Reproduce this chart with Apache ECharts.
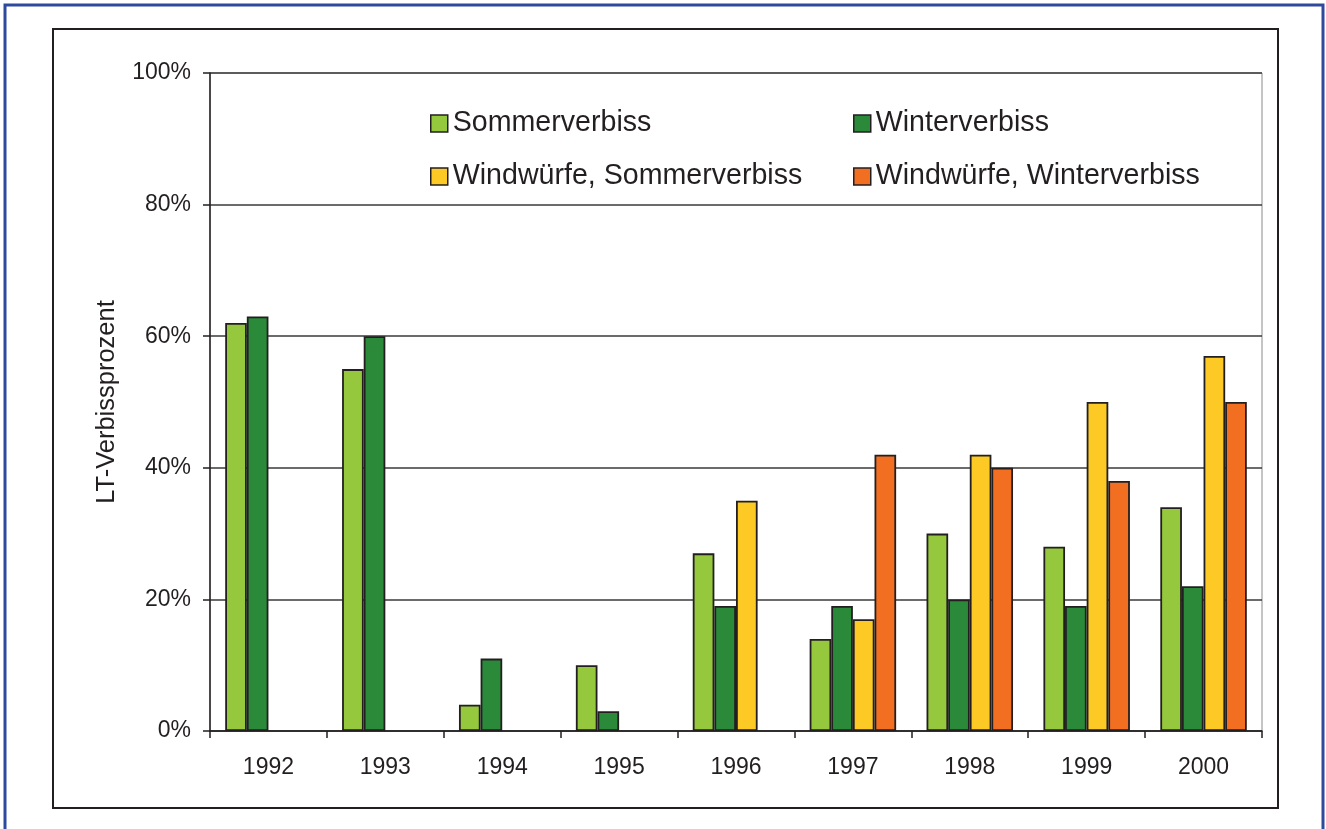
<!DOCTYPE html>
<html>
<head>
<meta charset="utf-8">
<script src="https://cdn.jsdelivr.net/npm/echarts@6/dist/echarts.min.js"></script>
<style>
  html, body { margin: 0; padding: 0; background: #fff; }
  #chart { width: 1326px; height: 829px; }
</style>
</head>
<body>
<div id="chart"></div>
<script>
// Jahre
const years = ['1992', '1993', '1994', '1995', '1996', '1997', '1998', '1999', '2000']
// LT-Verbissprozent je Serie (null = kein Balken)
const sommer = [62, 55, 4, 10, 27, 14, 30, 28, 34]
const winter = [63, 60, 11, 3, 19, 19, 20, 19, 22]
const windSommer = [null, null, null, null, 35, 17, 42, 50, 57]
const windWinter = [null, null, null, null, null, 42, 40, 38, 50]

const names = ['Sommerverbiss', 'Winterverbiss', 'Windwürfe, Sommerverbiss', 'Windwürfe, Winterverbiss']
const colors = ['#95c83d', '#2a8a3a', '#fdca25', '#f26f22']
const font = "'Liberation Sans', Arial, sans-serif"
const ink = '#231f20'

const chart = echarts.init(document.getElementById('chart'))

function legendAt(left, data) {
  return {
    left: left,
    top: 104,
    orient: 'vertical',
    data: data,
    icon: 'rect',
    itemWidth: 17,
    itemHeight: 17,
    itemGap: 24,
    itemTextGap: 9,
    itemStyle: { borderColor: ink, borderWidth: 1.5 },
    textStyle: { fontFamily: font, fontSize: 28.6, lineHeight: 28, color: ink },
  }
}

chart.setOption({
  animation: false,
  color: colors,
  textStyle: { fontFamily: font },
  graphic: [
    // äusserer blauer Rahmen
    {
      type: 'rect',
      shape: { x: 5, y: 5, width: 1318, height: 840 },
      style: { fill: 'none', stroke: '#2e4a9e', lineWidth: 3 },
    },
    // innerer schwarzer Rahmen
    {
      type: 'rect',
      shape: { x: 53, y: 29, width: 1225, height: 779 },
      style: { fill: 'none', stroke: ink, lineWidth: 2 },
    },
  ],
  legend: [
    legendAt(425, [names[0], names[2]]),
    legendAt(848, [names[1], names[3]]),
  ],
  grid: {
    left: 210,
    right: 64,
    top: 73,
    bottom: 98,
    show: true,
    borderColor: '#8a8a8a',
    borderWidth: 1,
  },
  xAxis: {
    type: 'category',
    data: years,
    axisLine: { lineStyle: { color: ink, width: 1.5 } },
    axisTick: { show: true, length: 7, lineStyle: { color: ink, width: 1.5 } },
    axisLabel: { fontFamily: font, fontSize: 23, color: ink, margin: 25 },
  },
  yAxis: {
    type: 'value',
    min: 0,
    max: 100,
    interval: 20,
    name: 'LT-Verbissprozent',
    nameLocation: 'middle',
    nameRotate: 90,
    nameGap: 90,
    nameTextStyle: { fontFamily: font, fontSize: 25.5, color: ink },
    axisLine: { show: true, lineStyle: { color: ink, width: 1.5 } },
    axisTick: { show: true, length: 7, lineStyle: { color: ink, width: 1.5 } },
    axisLabel: { formatter: '{value}%', fontFamily: font, fontSize: 23, color: ink, margin: 19 },
    splitLine: { lineStyle: { color: '#3a3a3a', width: 1.5 } },
  },
  series: [sommer, winter, windSommer, windWinter].map((d, i) => ({
    name: names[i],
    type: 'bar',
    data: d,
    barGap: 0,
    barCategoryGap: '26%',
    itemStyle: { color: colors[i], borderColor: ink, borderWidth: 1.8 },
  })),
})
</script>
</body>
</html>
